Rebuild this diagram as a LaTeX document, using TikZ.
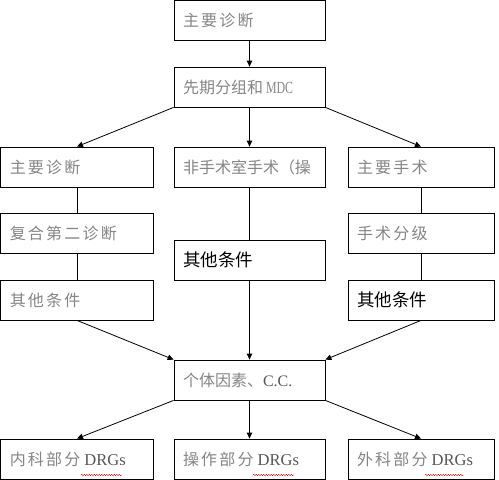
\documentclass[tikz,border=0pt]{standalone}
\usepackage{fontspec}
\usepackage{graphicx}
\newfontfamily\cjk{Noto Sans CJK SC}
\newfontfamily\cjksp{Noto Sans CJK SC}[LetterSpace=14]
\newfontfamily\lat{Liberation Serif}
\usetikzlibrary{arrows.meta,decorations.pathmorphing}
\definecolor{txtgray}{HTML}{858585}
\definecolor{latgray}{HTML}{555555}
\tikzset{
  box/.style={draw=black, line width=0.8pt, rectangle, minimum height=40pt,
    inner xsep=9pt, inner ysep=0pt, align=left, font=\cjk\fontsize{16}{16}\selectfont,
    text=txtgray},
  wbox/.style={box, minimum width=151pt, text width=133pt},
  nbox/.style={box, minimum width=152.5pt, text width=134.5pt},
  rbox/.style={box, minimum width=146pt, text width=128pt},
  dark/.style={text=black, font=\cjk\fontsize{17.5}{17.5}\selectfont},
  link/.style={draw=black, line width=0.8pt},
  arr/.style={link, -{Triangle[length=6pt,width=5.5pt]}},
  wavy/.style={draw=red!80!black, line width=0.4pt, decorate,
    decoration={snake, amplitude=0.7pt, segment length=2.5pt}}
}
\newcommand{\spc}[1]{{\cjksp #1}}
\newcommand{\drg}{\hspace{4pt}{\lat\color{latgray}\fontsize{16.5}{16.5}\selectfont DRGs}}
\begin{document}
\begin{tikzpicture}[x=1pt,y=-1pt]
\useasboundingbox (0,0) rectangle (499,480);
% top
\node[wbox] (top) at (249.5,20.5) {\raisebox{-3pt}{\spc{主要诊断}}};
\node[wbox] (mdc) at (249.5,87) {\raisebox{-3pt}{先期分组和\hspace{3pt}{\lat\fontsize{17}{17}\selectfont\scalebox{0.7}[1]{MDC}}}};
% row 1
\node[nbox] (l1) at (77,167) {\raisebox{-3pt}{\spc{主要诊断}}};
\node[wbox] (m1) at (249.5,167) {\raisebox{-3pt}{\mbox{非手术室手术（操}}};
\node[rbox] (r1) at (421,167) {\raisebox{-3pt}{\spc{主要手术}}};
% row 2
\node[nbox] (l2) at (77,233) {\raisebox{-3pt}{\spc{复合第二诊断}}};
\node[rbox] (r2) at (421,233) {\raisebox{-3pt}{\spc{手术分级}}};
\node[wbox,dark] (m2) at (249.5,260) {\raisebox{-3pt}{其他条件}};
% row 3
\node[nbox] (l3) at (77,300) {\raisebox{-3pt}{\spc{其他条件}}};
\node[rbox,dark] (r3) at (421,300) {\raisebox{-3pt}{其他条件}};
% cc
\node[wbox] (cc) at (249.5,380) {\raisebox{-3pt}{个体因素、{\lat\color{latgray}C.C.}}};
% bottom
\node[nbox] (b1) at (77,459) {\raisebox{-3pt}{\spc{内科部分}\drg}};
\node[wbox] (b2) at (249.5,459) {\raisebox{-3pt}{\spc{操作部分}\drg}};
\node[rbox] (b3) at (421,459) {\raisebox{-3pt}{\spc{外科部分}\drg}};
% connectors
\draw[arr] (top) -- (mdc);
\draw[arr] (mdc.south west) -- (l1.north);
\draw[arr] (mdc) -- (m1);
\draw[arr] (mdc.south east) -- (r1.north);
\draw[link] (l1) -- (l2);
\draw[link] (l2) -- (l3);
\draw[link] (r1) -- (r2);
\draw[link] (r2) -- (r3);
\draw[link] (m1) -- (m2);
\draw[arr] (m2) -- (cc);
\draw[arr] (l3.south) -- (cc.north west);
\draw[arr] (r3.south) -- (cc.north east);
\draw[arr] (cc.south west) -- (b1.north);
\draw[arr] (cc) -- (b2);
\draw[arr] (cc.south east) -- (b3.north);
% spell-check underlines
\coordinate (u1a) at (81,475); \coordinate (u1b) at (122,475);
\coordinate (u2a) at (253,475); \coordinate (u2b) at (294,475);
\coordinate (u3a) at (425,475); \coordinate (u3b) at (464,475);
\draw[wavy] (u1a) -- (u1b);
\draw[wavy] (u2a) -- (u2b);
\draw[wavy] (u3a) -- (u3b);
\end{tikzpicture}
\end{document}
